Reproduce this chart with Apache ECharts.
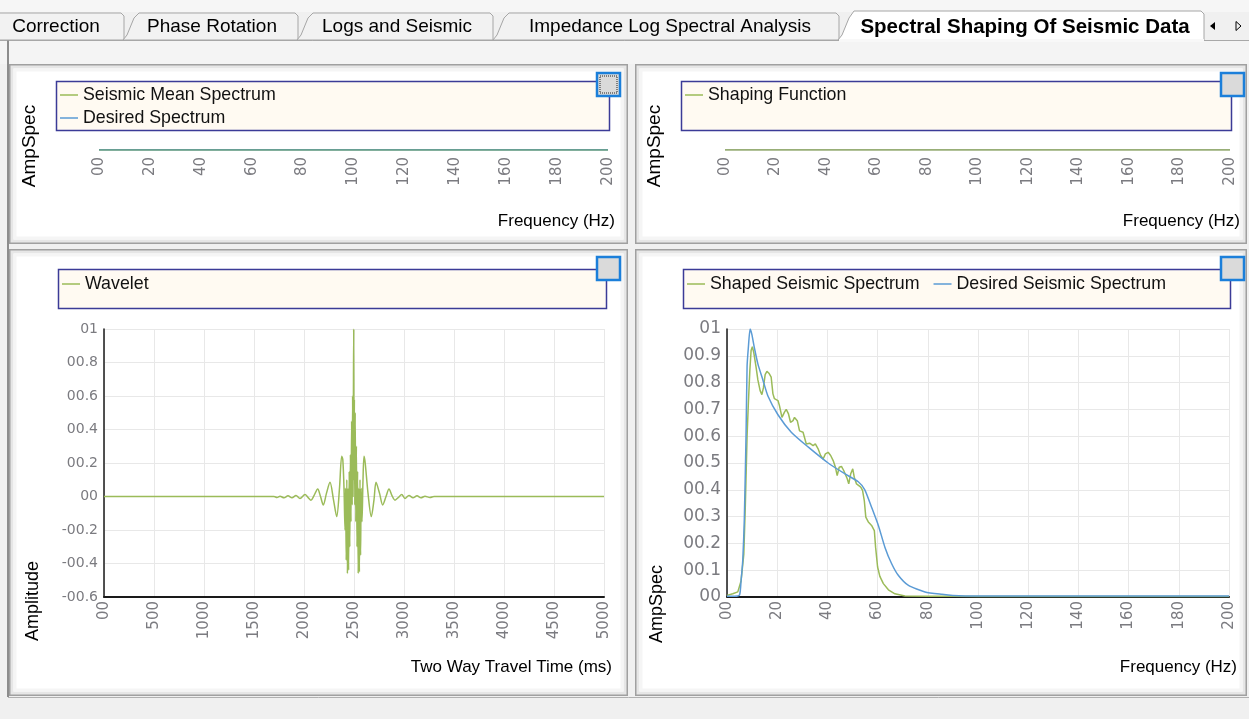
<!DOCTYPE html>
<html>
<head>
<meta charset="utf-8">
<script src="https://cdn.jsdelivr.net/npm/echarts@6/dist/echarts.min.js"></script>
<style>
html,body{margin:0;padding:0;background:#f0f0f0;}
#chart{width:1249px;height:719px;}
</style>
</head>
<body>
<div id="chart"></div>
<script>
// ---------------- DATA ----------------
const tabNames = ['Correction', 'Phase Rotation', 'Logs and Seismic', 'Impedance Log Spectral Analysis', 'Spectral Shaping Of Seismic Data'];

const freqTickLabels = ['00', '20', '40', '60', '80', '100', '120', '140', '160', '180', '200'];
const timeTickLabels = ['00', '500', '1000', '1500', '2000', '2500', '3000', '3500', '4000', '4500', '5000'];
const ampTickLabels = ['-00.6', '-00.4', '-00.2', '00', '00.2', '00.4', '00.6', '00.8', '01'];
const specTickLabels = ['00', '00.1', '00.2', '00.3', '00.4', '00.5', '00.6', '00.7', '00.8', '00.9', '01'];

// top panels: flat spectra
const topFreq = [0, 200];
const seismicMean = [0, 0];
const desiredTop = [0, 0];
const shapingFunction = [0, 0];

// wavelet (ms, amplitude)
const waveletTime = [
  0, 1700, 1730, 1760, 1800, 1840, 1880, 1920, 1960, 2010,
  2040, 2070, 2100, 2137, 2165, 2193, 2225, 2260, 2295, 2327,
  2355, 2377, 2388, 2400, 2410, 2416, 2422, 2428, 2434, 2440,
  2446, 2452, 2458, 2464, 2470, 2476, 2482, 2486, 2490, 2494,
  2497, 2500, 2504, 2508, 2512, 2518, 2524, 2530, 2536, 2542,
  2548, 2554, 2560, 2566, 2572, 2580, 2590, 2600, 2612, 2640,
  2673, 2700, 2720, 2755, 2787, 2820, 2850, 2880, 2910, 2945,
  2977, 3010, 3050, 3090, 3130, 3170, 3210, 3260, 3300, 5000
];
const waveletAmp = [
  0, 0, -0.006, 0.002, -0.008, 0.004, -0.008, 0.006, -0.012, 0.012,
  -0.005, -0.022, 0.005, 0.045, 0, -0.05, 0.02, 0.085, -0.02, -0.12,
  0.05, 0.24, 0.22, 0.05, -0.2, 0.05, -0.38, 0.1, -0.46, 0.05,
  -0.44, 0.15, -0.3, 0.25, -0.15, 0.45, -0.05, 0.6, 0, 0.58,
  1.0, 0.1, 0.58, -0.05, 0.5, -0.15, 0.3, -0.3, 0.15, -0.46,
  0.05, -0.45, 0.1, -0.35, 0.05, -0.15, 0.1, 0.24, 0.2, 0.02,
  -0.12, -0.02, 0.085, 0.02, -0.05, 0, 0.045, 0.005, -0.022, -0.005,
  0.012, -0.012, 0.006, -0.008, 0.004, -0.008, 0.002, -0.006, 0, 0
];

// shaped seismic spectrum (Hz, amp)
const shapedFreq = [
  0, 2.3, 4.3, 5.6, 6.7, 7.3, 8, 8.5, 9.1, 9.6,
  10.1, 10.7, 11.6, 12.3, 13.2, 13.9, 14.5, 15.2, 15.9, 16.7,
  17.6, 18.3, 18.9, 19.6, 20.3, 20.9, 21.9, 22.9, 23.6, 24.5,
  25.3, 26.3, 26.9, 28, 28.9, 30.3, 31.6, 32.9, 34.3, 35.2,
  36.3, 37.3, 38.3, 39.2, 40.3, 41.3, 42.3, 43.2, 43.9, 44.7,
  45.6, 46.5, 47.2, 47.9, 48.5, 49.3, 50.1, 50.7, 51.6, 52.3,
  53.3, 54, 54.7, 55.3, 56.3, 57.6, 58.7, 59.2, 60, 60.9,
  62.3, 64.3, 66.9, 70.9, 80, 90, 100, 200
];
const shapedAmp = [
  0.006, 0.012, 0.019, 0.06, 0.16, 0.34, 0.6, 0.72, 0.845, 0.92,
  0.934, 0.91, 0.857, 0.81, 0.77, 0.755, 0.78, 0.83, 0.842, 0.835,
  0.82, 0.758, 0.74, 0.745, 0.733, 0.714, 0.67, 0.69, 0.70, 0.683,
  0.652, 0.658, 0.67, 0.658, 0.62, 0.615, 0.571, 0.574, 0.565, 0.571,
  0.553, 0.528, 0.515, 0.534, 0.54, 0.528, 0.509, 0.484, 0.453, 0.484,
  0.487, 0.472, 0.466, 0.441, 0.422, 0.46, 0.478, 0.447, 0.422, 0.416,
  0.41, 0.398, 0.36, 0.298, 0.28, 0.267, 0.248, 0.186, 0.112, 0.077,
  0.05, 0.027, 0.012, 0.004, 0.003, 0.003, 0.002, 0.002
];

// desired seismic spectrum (Hz, amp)
const desiredFreq = [
  0, 3, 5, 5.6, 6.3, 6.9, 7.6, 8, 8.5, 9.2,
  9.9, 10.9, 12.3, 14.3, 16.3, 20.3, 25.6, 32.3, 40.3, 46.9,
  52.3, 54.9, 57.6, 60.3, 62.9, 65.6, 68.3, 72.3, 78.9, 85.6,
  90, 100, 200
];
const desiredAmp = [
  0.003, 0.003, 0.008, 0.06, 0.14, 0.29, 0.61, 0.86, 0.93, 1.0,
  0.98, 0.93, 0.87, 0.81, 0.75, 0.68, 0.615, 0.56, 0.50, 0.46,
  0.43, 0.40, 0.335, 0.267, 0.186, 0.124, 0.08, 0.043, 0.019, 0.01,
  0.006, 0.004, 0.004
];

// ---------------- HELPERS ----------------
const zip = (xs, ys) => xs.map((x, i) => [x, ys[i]]);
const fmt = (labels, min, step) => v => {
  const i = Math.round((v - min) / step);
  return labels[i] !== undefined ? labels[i] : '';
};

const GREEN = '#9bbb59';
const BLUE = '#5b9bd5';
const UI_FONT = 'Liberation Sans';
const TICK_FONT = 'DejaVu Sans';
const TICK_COLOR = '#7b7b80';

// ---------------- UI CHROME (graphic) ----------------
const g = [];
g.push({type: 'rect', z: -20, shape: {x: 0, y: 0, width: 1249, height: 719}, style: {fill: '#f0f0f0'}});
g.push({type: 'rect', z: -19, shape: {x: 0, y: 0, width: 1249, height: 12}, style: {fill: '#f6f6f6'}});
g.push({type: 'rect', z: -19, shape: {x: 0, y: 40, width: 1249, height: 24}, style: {fill: '#f4f4f4'}});
g.push({type: 'line', z: -18, shape: {x1: 0, y1: 40.5, x2: 1249, y2: 40.5}, style: {stroke: '#a8a8a8', lineWidth: 1}});
g.push({type: 'line', z: -18, shape: {x1: 8, y1: 40, x2: 8, y2: 697}, style: {stroke: '#8c8c8c', lineWidth: 2}});
g.push({type: 'rect', z: -19, shape: {x: 0, y: 697, width: 1249, height: 22}, style: {fill: '#f0f0f0'}});
g.push({type: 'line', z: -18, shape: {x1: 8, y1: 697.5, x2: 1249, y2: 697.5}, style: {stroke: '#b0b0b0', lineWidth: 1}});

// tabs
const tabGeom = [
  {xl: -20, xr: 124, cx: 56},
  {xl: 123, xr: 298, cx: 212},
  {xl: 297, xr: 493, cx: 397},
  {xl: 493, xr: 839, cx: 670},
  {xl: 838, xr: 1204, cx: 1025}
];
tabNames.forEach((name, i) => {
  const t = tabGeom[i];
  const active = i === tabNames.length - 1;
  const top = active ? 11 : 13;
  g.push({
    type: 'polygon', z: -15 + i,
    shape: {points: [[t.xl, 40], [t.xl + 4, 35], [t.xl + 11, 18], [t.xl + 16, top], [t.xr - 3, top], [t.xr, top + 3], [t.xr, 40]]},
    style: {fill: active ? '#ffffff' : '#f2f2f2', stroke: '#a6a6a6', lineWidth: 1}
  });
  if (active) {
    g.push({type: 'rect', z: -15 + i, shape: {x: t.xl + 1, y: 39, width: t.xr - t.xl - 1, height: 3}, style: {fill: '#f8f8f8'}});
  }
  g.push({
    type: 'text', z: -14 + i,
    style: {text: name, x: t.cx, y: 27, align: 'center', verticalAlign: 'middle',
      font: (active ? 'bold 20.5px ' : '19px ') + '"' + UI_FONT + '"', fill: '#000'}
  });
});
g.push({type: 'polygon', z: 0, shape: {points: [[1210, 26], [1215, 22], [1215, 30]]}, style: {fill: '#000'}});
g.push({type: 'polygon', z: 0, shape: {points: [[1236, 21.5], [1241, 26], [1236, 30.5]]}, style: {fill: 'none', stroke: '#000', lineWidth: 1}});

// panels
function panel(x, y, w, h) {
  g.push({type: 'rect', z: -10, shape: {x: x, y: y, width: w, height: h}, style: {fill: '#ffffff', stroke: '#a0a0a0', lineWidth: 2}});
  g.push({type: 'rect', z: -9, shape: {x: x + 2, y: y + 2, width: w - 4, height: h - 4}, style: {fill: 'none', stroke: '#e6e6e6', lineWidth: 3}});
  g.push({type: 'rect', z: -9, shape: {x: x + 5, y: y + 5, width: w - 10, height: h - 10}, style: {fill: 'none', stroke: '#f5f5f5', lineWidth: 3}});
}
panel(10, 65, 617, 178);
panel(636, 65, 610, 178);
panel(10, 250, 617, 445);
panel(636, 250, 610, 445);

// legend boxes
function legendBox(x, y, w, h) {
  g.push({type: 'rect', z: 1, shape: {x: x, y: y, width: w, height: h}, style: {fill: '#fffaf2', stroke: '#3b3b97', lineWidth: 1.5}});
}
legendBox(56.5, 81.5, 553, 49);
legendBox(681.5, 81.5, 550, 49);
legendBox(58.5, 269.5, 548, 39);
legendBox(683.5, 269.5, 547, 39);

// small buttons
function button(x, y, focus) {
  g.push({type: 'rect', z: 5, shape: {x: x, y: y, width: 23, height: 23}, style: {fill: '#dadada', stroke: '#1b7fda', lineWidth: 2.5}});
  if (focus) {
    g.push({type: 'rect', z: 6, shape: {x: x + 3, y: y + 3, width: 17, height: 17}, style: {fill: 'none', stroke: '#222', lineWidth: 1, lineDash: [1, 1]}});
  }
}
button(597, 73, true);
button(1221, 73, false);
button(597, 257, false);
button(1221, 257, false);

// axis names
function vText(text, x, y, fs) {
  g.push({type: 'text', z: 5, x: x, y: y, rotation: Math.PI / 2,
    style: {text: text, x: 0, y: 0, align: 'center', verticalAlign: 'middle', font: fs + 'px "' + UI_FONT + '"', fill: '#000'}});
}
function hText(text, x, y) {
  g.push({type: 'text', z: 5,
    style: {text: text, x: x, y: y, align: 'right', verticalAlign: 'middle', font: '17px "' + UI_FONT + '"', fill: '#000'}});
}
vText('AmpSpec', 30, 146, 19);
vText('AmpSpec', 655, 146, 19);
vText('Amplitude', 33, 601, 18);
vText('AmpSpec', 657, 604, 18);
hText('Frequency (Hz)', 615, 221);
hText('Frequency (Hz)', 1240, 221);
hText('Two Way Travel Time (ms)', 612, 667);
hText('Frequency (Hz)', 1237, 667);

// ---------------- CHART ----------------
const legendCommon = {
  icon: 'rect', itemWidth: 18, itemHeight: 1.5, padding: 0, z: 4, selectedMode: false,
  textStyle: {fontSize: 17.8, color: '#111', fontFamily: UI_FONT, lineHeight: 18}
};
const legends = [
  Object.assign({}, legendCommon, {left: 60, top: 86, orient: 'vertical', itemGap: 5, data: ['Seismic Mean Spectrum', 'Desired Spectrum']}),
  Object.assign({}, legendCommon, {left: 685, top: 86, data: ['Shaping Function']}),
  Object.assign({}, legendCommon, {left: 62, top: 275, data: ['Wavelet']}),
  Object.assign({}, legendCommon, {left: 687, top: 275, itemGap: 14, data: ['Shaped Seismic Spectrum', 'Desired Seismic Spectrum']})
];

function xAxisRot(grid, min, max, interval, labels, showLine, fs) {
  return {
    gridIndex: grid, type: 'value', min: min, max: max, interval: interval,
    axisLine: {show: showLine, onZero: false, lineStyle: {color: '#1a1a1a', width: 2}},
    axisTick: {show: false},
    splitLine: {show: showLine, lineStyle: {color: '#e8e8e8', width: 1}},
    axisLabel: {rotate: 90, margin: showLine ? 4 : 7, fontSize: fs, fontFamily: TICK_FONT, color: TICK_COLOR,
      showMinLabel: true, showMaxLabel: true, formatter: fmt(labels, min, interval)}
  };
}
function yAxisVal(grid, min, max, interval, labels, fs) {
  return {
    gridIndex: grid, type: 'value', min: min, max: max, interval: interval,
    axisLine: {show: true, onZero: false, lineStyle: {color: '#1a1a1a', width: 1.5}},
    axisTick: {show: false},
    splitLine: {show: true, lineStyle: {color: '#e8e8e8', width: 1}},
    axisLabel: {margin: 6, fontSize: fs, fontFamily: TICK_FONT, color: TICK_COLOR,
      showMinLabel: true, showMaxLabel: true, formatter: fmt(labels, min, interval)}
  };
}

const option = {
  animation: false,
  backgroundColor: '#f0f0f0',
  textStyle: {fontFamily: UI_FONT},
  graphic: {elements: g},
  legend: legends,
  grid: [
    {left: 99, top: 149, width: 509, height: 1},
    {left: 725, top: 149, width: 505, height: 1},
    {left: 104, top: 329, width: 500, height: 268},
    {left: 727, top: 329, width: 502, height: 268}
  ],
  xAxis: [
    xAxisRot(0, 0, 200, 20, freqTickLabels, false, 15),
    xAxisRot(1, 0, 200, 20, freqTickLabels, false, 15),
    xAxisRot(2, 0, 5000, 500, timeTickLabels, true, 15),
    xAxisRot(3, 0, 200, 20, freqTickLabels, true, 15)
  ],
  yAxis: [
    {gridIndex: 0, type: 'value', min: 0, max: 1, show: false},
    {gridIndex: 1, type: 'value', min: 0, max: 1, show: false},
    yAxisVal(2, -0.6, 1, 0.2, ampTickLabels, 14),
    yAxisVal(3, 0, 1, 0.1, specTickLabels, 17)
  ],
  series: [
    {name: 'Seismic Mean Spectrum', type: 'line', xAxisIndex: 0, yAxisIndex: 0, data: zip(topFreq, seismicMean),
      showSymbol: false, symbol: 'none', itemStyle: {color: GREEN}, lineStyle: {color: GREEN, width: 1.5}},
    {name: 'Desired Spectrum', type: 'line', xAxisIndex: 0, yAxisIndex: 0, data: zip(topFreq, desiredTop),
      showSymbol: false, symbol: 'none', itemStyle: {color: BLUE}, lineStyle: {color: '#4e8f98', width: 1.5}},
    {name: 'Shaping Function', type: 'line', xAxisIndex: 1, yAxisIndex: 1, data: zip(topFreq, shapingFunction),
      showSymbol: false, symbol: 'none', itemStyle: {color: GREEN}, lineStyle: {color: '#76934a', width: 1.5}},
    {name: 'Wavelet', type: 'line', xAxisIndex: 2, yAxisIndex: 2, data: zip(waveletTime, waveletAmp),
      showSymbol: false, symbol: 'none', smooth: 0.3, itemStyle: {color: GREEN}, lineStyle: {color: GREEN, width: 1.5}},
    {name: 'Shaped Seismic Spectrum', type: 'line', xAxisIndex: 3, yAxisIndex: 3, data: zip(shapedFreq, shapedAmp),
      showSymbol: false, symbol: 'none', itemStyle: {color: GREEN}, lineStyle: {color: GREEN, width: 1.5}},
    {name: 'Desired Seismic Spectrum', type: 'line', xAxisIndex: 3, yAxisIndex: 3, data: zip(desiredFreq, desiredAmp),
      showSymbol: false, symbol: 'none', smooth: 0.2, itemStyle: {color: BLUE}, lineStyle: {color: BLUE, width: 1.5}}
  ]
};

const chart = echarts.init(document.getElementById('chart'), null, {renderer: 'canvas', width: 1249, height: 719});
chart.setOption(option);
</script>
</body>
</html>
